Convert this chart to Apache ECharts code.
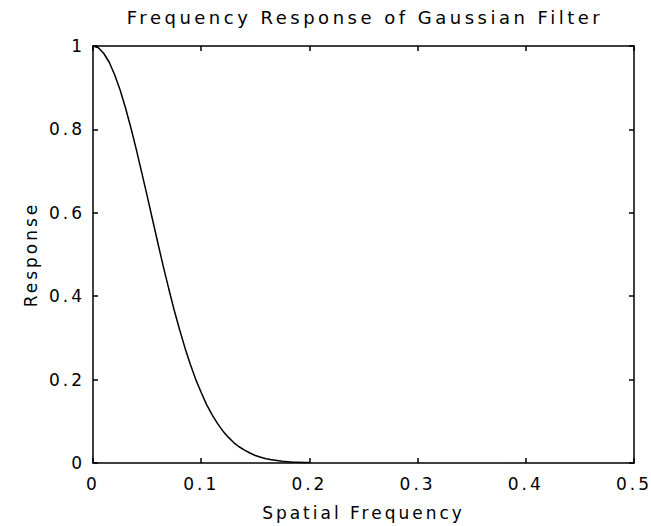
<!DOCTYPE html>
<html>
<head>
<meta charset="utf-8">
<script src="https://cdn.jsdelivr.net/npm/echarts@6/dist/echarts.min.js"></script>
<style>
  html, body { margin: 0; padding: 0; background: #fff; }
  #chart { width: 651px; height: 526px; }
  /* the reference text is widely spaced */
  #chart text { letter-spacing: 3px; }
  #chart text[style*="18px"] { letter-spacing: 3.5px; }
</style>
</head>
<body>
<div id="chart"></div>
<script>
// values
var freq = [0, 0.005, 0.01, 0.015, 0.02, 0.025, 0.03, 0.035, 0.04, 0.045,
  0.05, 0.055, 0.06, 0.065, 0.07, 0.075, 0.08, 0.085, 0.09, 0.095,
  0.1, 0.105, 0.11, 0.115, 0.12, 0.125, 0.13, 0.135, 0.14, 0.145,
  0.15, 0.155, 0.16, 0.165, 0.17, 0.175, 0.18, 0.185, 0.19, 0.195, 0.2];
var response = [1, 0.996, 0.982, 0.961, 0.931, 0.895, 0.852, 0.804, 0.752, 0.697,
  0.641, 0.584, 0.527, 0.471, 0.418, 0.367, 0.32, 0.276, 0.236, 0.2,
  0.169, 0.14, 0.116, 0.095, 0.077, 0.062, 0.049, 0.039, 0.031, 0.024,
  0.018, 0.014, 0.01, 0.008, 0.006, 0.004, 0.003, 0.002, 0.002, 0.001, 0.001];
var xTicks = [0, 0.1, 0.2, 0.3, 0.4, 0.5];
var yTicks = [0, 0.2, 0.4, 0.6, 0.8, 1];

var font = "DejaVu Sans";
var axisLine = { show: true, onZero: false, lineStyle: { color: "#000", width: 1.5 } };
var tick = { show: true, inside: true, length: 5, lineStyle: { color: "#000", width: 1.5 } };

var chart = echarts.init(document.getElementById("chart"), null, { renderer: "svg" });
chart.setOption({
  backgroundColor: "#fff",
  animation: false,
  title: {
    text: "Frequency Response of Gaussian Filter",
    left: 365,
    textAlign: "center",
    top: 8,
    padding: 0,
    textStyle: { fontFamily: font, fontSize: 18, fontWeight: "normal", color: "#000" }
  },
  grid: { left: 93, right: 17, top: 46, bottom: 61 },
  xAxis: [{
    type: "value",
    min: xTicks[0],
    max: xTicks[xTicks.length - 1],
    interval: 0.1,
    name: "Spatial Frequency",
    nameLocation: "middle",
    nameGap: 41,
    nameTextStyle: { fontFamily: font, fontSize: 17, color: "#000" },
    axisLine: axisLine,
    axisTick: tick,
    splitLine: { show: false },
    axisLabel: { fontFamily: font, fontSize: 17, color: "#000", margin: 12 }
  }, {
    type: "value",
    position: "top",
    min: xTicks[0],
    max: xTicks[xTicks.length - 1],
    interval: 0.1,
    axisLine: axisLine,
    axisTick: tick,
    splitLine: { show: false },
    axisLabel: { show: false }
  }],
  yAxis: [{
    type: "value",
    min: yTicks[0],
    max: yTicks[yTicks.length - 1],
    interval: 0.2,
    name: "Response",
    nameLocation: "middle",
    nameGap: 54,
    nameTextStyle: { fontFamily: font, fontSize: 17, color: "#000" },
    axisLine: axisLine,
    axisTick: tick,
    splitLine: { show: false },
    axisLabel: { fontFamily: font, fontSize: 17, color: "#000", margin: 8 }
  }, {
    type: "value",
    position: "right",
    min: yTicks[0],
    max: yTicks[yTicks.length - 1],
    interval: 0.2,
    axisLine: axisLine,
    axisTick: tick,
    splitLine: { show: false },
    axisLabel: { show: false }
  }],
  series: [{
    type: "line",
    data: freq.map(function (f, i) { return [f, response[i]]; }),
    showSymbol: false,
    lineStyle: { color: "#000", width: 1.5 }
  }]
});
</script>
</body>
</html>
